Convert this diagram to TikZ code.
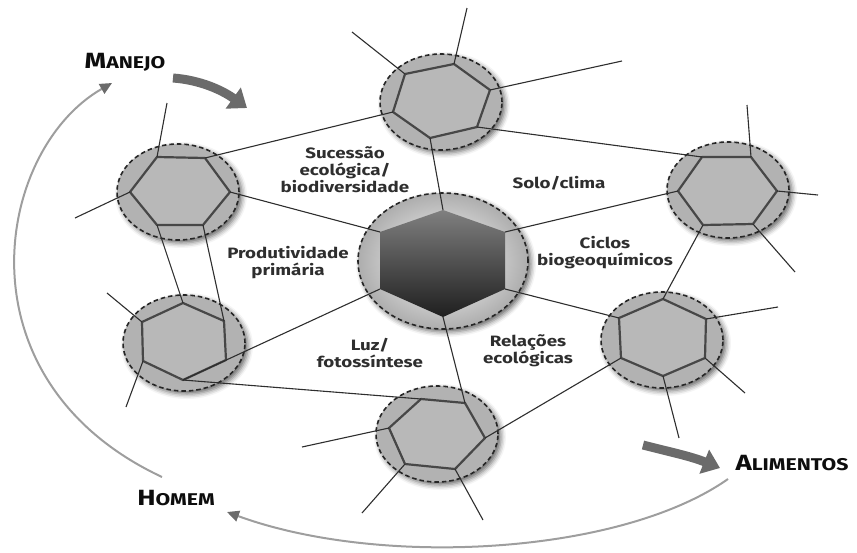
\documentclass[tikz,border=0pt]{standalone}
\usepackage{fontspec}
\setsansfont{Fira Sans}[FakeStretch=1.25]
\usetikzlibrary{arrows.meta,shapes.geometric,shadows.blur}

\begin{document}
\begin{tikzpicture}[x=1pt,y=-1pt,
  cell/.style={ellipse,draw=black!85,line width=1.6pt,dash pattern=on 4.5pt off 3pt,
    fill=black!30,minimum width=122pt,minimum height=96pt,inner sep=0pt,
    blur shadow={shadow xshift=3pt,shadow yshift=-3pt,shadow blur radius=5pt,shadow opacity=60}},
  hexa/.style={draw=black!72,line width=2.2pt,fill=black!28,line join=round},
  link/.style={draw=black!82,line width=1.1pt},
  tag/.style={font=\sffamily\bfseries\fontsize{15}{17}\selectfont,text=black!82,align=center},
  big/.style={font=\sffamily\bfseries\fontsize{17}{17}\selectfont,text=black!95},
  flow/.style={draw=black!38,line width=2pt,-{Triangle[length=12pt,width=11pt,color=black!58]}},
  push/.style={draw=black!58,line width=9pt,-{Triangle[length=17pt,width=25pt]}}]

  \useasboundingbox (0,0) rectangle (857,552);

  % cells
  \node[cell] (cn) at (441,102) {};
  \node[cell] (cnw) at (178,192) {};
  \node[cell] (csw) at (184,343) {};
  \node[cell] (cs) at (437,434) {};
  \node[cell] (cse) at (662,340) {};
  \node[cell] (cne) at (728,190) {};
  \node[cell,minimum width=170pt,minimum height=136pt,inner color=white,outer color=black!32] (mata) at (443,261) {};

  % hexagon corners
  \coordinate (cn1) at (405,74);  \coordinate (cn2) at (454,64);  \coordinate (cn3) at (490,90);
  \coordinate (cn4) at (477,127); \coordinate (cn5) at (430,138); \coordinate (cn6) at (393,112);
  \coordinate (cnw1) at (157,157); \coordinate (cnw2) at (205,158); \coordinate (cnw3) at (230,192);
  \coordinate (cnw4) at (203,225); \coordinate (cnw5) at (157,225); \coordinate (cnw6) at (130,192);
  \coordinate (csw1) at (183,303); \coordinate (csw2) at (224,321); \coordinate (csw3) at (226,360);
  \coordinate (csw4) at (183,380); \coordinate (csw5) at (143,361); \coordinate (csw6) at (142,322);
  \coordinate (cs1) at (421,399); \coordinate (cs2) at (465,403); \coordinate (cs3) at (485,438);
  \coordinate (cs4) at (455,469); \coordinate (cs5) at (405,464); \coordinate (cs6) at (389,428);
  \coordinate (cse1) at (663,299); \coordinate (cse2) at (706,319); \coordinate (cse3) at (705,358);
  \coordinate (cse4) at (663,376); \coordinate (cse5) at (621,358); \coordinate (cse6) at (619,318);
  \coordinate (cne1) at (702,157); \coordinate (cne2) at (751,157); \coordinate (cne3) at (777,191);
  \coordinate (cne4) at (753,224); \coordinate (cne5) at (703,225); \coordinate (cne6) at (678,191);
  \coordinate (m1) at (443,210); \coordinate (m2) at (505,232); \coordinate (m3) at (505,289);
  \coordinate (m4) at (443,317); \coordinate (m5) at (380,289); \coordinate (m6) at (380,232);

  % free ends
  \coordinate (cn1x) at (352,32);  \coordinate (cn2x) at (467,8);   \coordinate (cn3x) at (622,61);
  \coordinate (cnw1x) at (167,103); \coordinate (cnw6x) at (75,218);
  \coordinate (csw6x) at (107,293); \coordinate (csw5x) at (126,407);
  \coordinate (cs6x) at (302,447); \coordinate (cs5x) at (362,513); \coordinate (cs4x) at (483,520);
  \coordinate (cse2x) at (778,307); \coordinate (cse3x) at (745,393); \coordinate (cse4x) at (679,438);
  \coordinate (cne2x) at (747,105); \coordinate (cne3x) at (818,195); \coordinate (cne4x) at (795,272);

  \foreach \c in {cn,cnw,csw,cs,cse,cne}
    \draw[hexa] (\c1) -- (\c2) -- (\c3) -- (\c4) -- (\c5) -- (\c6) -- cycle;
  \shade[top color=black!50,bottom color=black!88] (m1) -- (m2) -- (m3) -- (m4) -- (m5) -- (m6) -- cycle;

  \foreach \a/\b in {cn4/cne1,cn5/m1,cn6/cnw2,cnw3/m6,cnw5/csw1,cnw4/csw2,csw4/m5,
      csw4/cs1,cs2/m4,cs3/cse5,cse6/m3,cse1/cne5,cne6/m2}
    \draw[link] (\a) -- (\b);
  \foreach \v in {cn1,cn2,cn3,cnw1,cnw6,csw6,csw5,cs6,cs5,cs4,cse2,cse3,cse4,cne2,cne3,cne4}
    \draw[link] (\v) -- (\v x);

  % labels
  \node[tag] (suc) at (345,170) {Sucessão\\ecológica/\\biodiversidade};
  \node[tag] (solo) at (559,183) {Solo/clima};
  \node[tag] (ciclos) at (605,253) {Ciclos\\biogeoquímicos};
  \node[tag] (prod) at (288,263) {Produtividade\\primária};
  \node[tag] (luz) at (370,353) {Luz/\\fotossíntese};
  \node[tag] (rel) at (528,351) {Relações\\ecológicas};

  \node[big] (manejo) at (125,62) {{\fontsize{22}{22}\selectfont M}ANEJO};
  \node[big] (homem) at (176,498) {{\fontsize{22}{22}\selectfont H}OMEM};
  \node[big] (alim) at (792,463) {{\fontsize{22}{22}\selectfont A}LIMENTOS};

  % cycle
  \coordinate (h0) at (162,477); \coordinate (m0) at (112,83);
  \coordinate (a0) at (728,479); \coordinate (h1) at (227,512);
  \draw[flow] (h0) .. controls (-45,380) and (-5,150) .. (m0);
  \draw[flow] (a0) .. controls (620,555) and (380,568) .. (h1);

  \coordinate (p0) at (173,78); \coordinate (p1) at (247,108);
  \coordinate (q0) at (643,445); \coordinate (q1) at (720,468);
  \draw[push] (p0) .. controls (200,80) and (222,90) .. (p1);
  \draw[push] (q0) .. controls (670,452) and (690,456) .. (q1);
\end{tikzpicture}
\end{document}
